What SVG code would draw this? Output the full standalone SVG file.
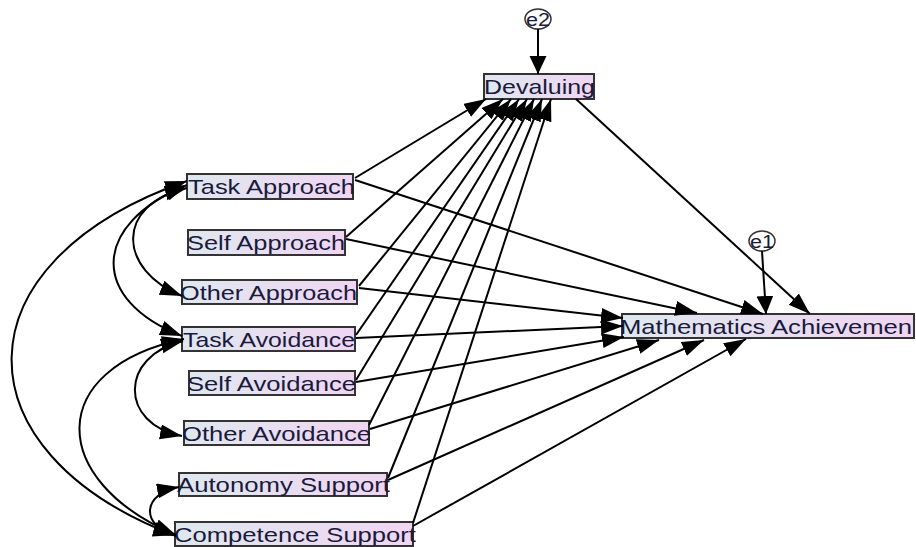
<svg xmlns="http://www.w3.org/2000/svg" width="916" height="547" viewBox="0 0 916 547">
<defs>
<linearGradient id="boxfill" x1="0" y1="0" x2="1" y2="0">
<stop offset="0" stop-color="#dfe8ee"/>
<stop offset="1" stop-color="#f0d5f2"/>
</linearGradient>
<marker id="ah" markerUnits="userSpaceOnUse" markerWidth="24" markerHeight="16" refX="22" refY="7.5" orient="auto-start-reverse">
<path d="M0,0 L22,7.5 L0,15 z" fill="#000"/>
</marker>
<marker id="av" markerUnits="userSpaceOnUse" markerWidth="20" markerHeight="18" refX="18" refY="8.5" orient="auto">
<path d="M0,0 L18,8.5 L0,17 z" fill="#000"/>
</marker>
<style>
.box{fill:url(#boxfill);stroke:#333;stroke-width:2}
.err{fill:#fff;stroke:#333;stroke-width:1.5}
.lbl{font-family:"Liberation Sans",Arial,sans-serif;font-size:21px;fill:#1a1a3c}
.elbl{font-family:"Liberation Sans",Arial,sans-serif;font-size:18px;fill:#1a1a3c}
.c{fill:none;stroke:#000;stroke-width:2;marker-end:url(#ah)}
.cv{fill:none;stroke:#000;stroke-width:2;marker-end:url(#av)}
.d{fill:none;stroke:#000;stroke-width:2;marker-start:url(#ah);marker-end:url(#ah)}
</style>
</defs>
<rect width="916" height="547" fill="#fff"/>
<g id="e2"><ellipse class="err" cx="538" cy="19" rx="13" ry="10"/><text class="elbl" x="538" y="25.5" text-anchor="middle" textLength="24" lengthAdjust="spacingAndGlyphs">e2</text></g>
<g id="e1"><ellipse class="err" cx="762" cy="241" rx="13" ry="10"/><text class="elbl" x="762" y="247.5" text-anchor="middle" textLength="24" lengthAdjust="spacingAndGlyphs">e1</text></g>
<g id="devaluing"><rect class="box" x="484" y="74" width="110" height="25"/><text class="lbl" x="484" y="94" textLength="111" lengthAdjust="spacingAndGlyphs">Devaluing</text></g>
<g id="task-approach"><rect class="box" x="187" y="174" width="166" height="25"/><text class="lbl" x="188" y="194" textLength="167" lengthAdjust="spacingAndGlyphs">Task Approach</text></g>
<g id="self-approach"><rect class="box" x="188" y="230" width="157" height="25"/><text class="lbl" x="187" y="250" textLength="158" lengthAdjust="spacingAndGlyphs">Self Approach</text></g>
<g id="other-approach"><rect class="box" x="182" y="280" width="175" height="24"/><text class="lbl" x="180" y="299.5" textLength="177" lengthAdjust="spacingAndGlyphs">Other Approach</text></g>
<g id="task-avoidance"><rect class="box" x="182" y="327" width="173" height="24"/><text class="lbl" x="183" y="346.5" textLength="172" lengthAdjust="spacingAndGlyphs">Task Avoidance</text></g>
<g id="self-avoidance"><rect class="box" x="189" y="371" width="166" height="24"/><text class="lbl" x="187" y="390.5" textLength="169" lengthAdjust="spacingAndGlyphs">Self Avoidance</text></g>
<g id="other-avoidance"><rect class="box" x="184" y="421" width="185" height="24"/><text class="lbl" x="182" y="440.5" textLength="189" lengthAdjust="spacingAndGlyphs">Other Avoidance</text></g>
<g id="autonomy-support"><rect class="box" x="179" y="473" width="208" height="23"/><text class="lbl" x="177" y="492" textLength="213" lengthAdjust="spacingAndGlyphs">Autonomy Support</text></g>
<g id="competence-support"><rect class="box" x="175" y="522" width="238" height="24"/><text class="lbl" x="174" y="541.5" textLength="242" lengthAdjust="spacingAndGlyphs">Competence Support</text></g>
<g id="math-achievement"><rect class="box" x="622" y="314" width="292" height="24"/><text class="lbl" x="620" y="333.5" textLength="292" lengthAdjust="spacingAndGlyphs">Mathematics Achievemen</text></g>
<g id="connectors">
<path class="cv" d="M538,29 L538,74"/>
<path class="cv" d="M762,251 L766,314"/>
<path class="c" d="M576,99 L810,314"/>
<path class="c" d="M355,178 L486,99"/>
<path class="c" d="M346,237 L503,99"/>
<path class="c" d="M359,286 L511,99"/>
<path class="c" d="M356,335 L519,99"/>
<path class="c" d="M356,380 L527,99"/>
<path class="c" d="M369,425 L534,99"/>
<path class="c" d="M388,478 L542,99"/>
<path class="c" d="M413,523 L551,99"/>
<path class="c" d="M355,180 L763,314"/>
<path class="c" d="M346,239 L697,313"/>
<path class="c" d="M359,288 L623,318"/>
<path class="c" d="M356,338 L623,326"/>
<path class="c" d="M356,382 L624,337"/>
<path class="c" d="M370,429 L659,340"/>
<path class="c" d="M388,480 L704,340"/>
<path class="c" d="M413,526 L746,339"/>
<path class="d" d="M187,181 C-45,262 -45,452 176,536"/>
<path class="d" d="M187,185 C90,225 90,300 182,336"/>
<path class="d" d="M187,188 C114,205 118,270 182,296"/>
<path class="d" d="M184,339 C46,368 46,480 176,535"/>
<path class="d" d="M183,341 C119,356 119,424 182,436"/>
<path class="d" d="M179,487 C141,494 141,526 175,535"/>
</g>
</svg>
